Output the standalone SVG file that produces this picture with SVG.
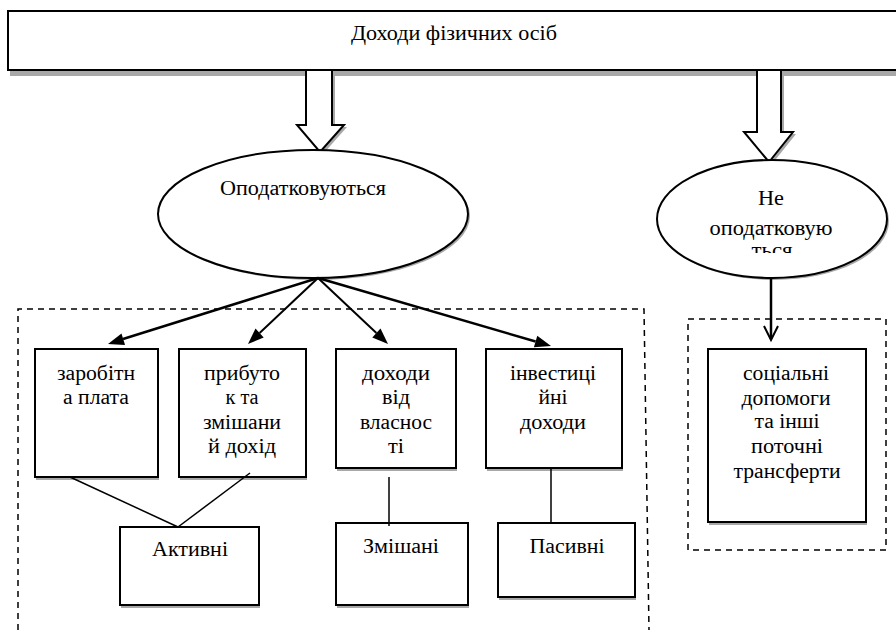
<svg xmlns="http://www.w3.org/2000/svg" width="896" height="635" viewBox="0 0 896 635">
<rect width="896" height="635" fill="#fff"/>

<g fill="none" stroke="#000" stroke-width="1.5" stroke-dasharray="6,5">
<g id="group-taxed"><path d="M18,630 V309 H644 L649,630"/></g>
<g id="group-nontaxed"><rect x="688" y="319" width="198" height="231"/></g>
</g>

<g id="top">
<rect fill="#a8a8a8" x="10" y="14" width="900" height="62"/>
<rect fill="#fff" stroke="#000" stroke-width="2" x="8" y="11" width="900" height="59"/>
<text font-family="Liberation Serif" font-size="20" x="351" y="40" textLength="206" lengthAdjust="spacingAndGlyphs">Доходи фізичних осіб</text>
</g>

<g id="arrow-left">
<path fill="#a8a8a8" d="M309,72 H335 V127 H347 L323,154 L300,127 H309 Z"/>
<path d="M306,70 H332 V125 H344 L320,152 L297,125 H306 Z" fill="#fff" stroke="#000" stroke-width="2"/>
</g>
<g id="arrow-right">
<path fill="#a8a8a8" d="M760,72 H784 V134 H796 L772,164 L747,134 H760 Z"/>
<path d="M757,70 H781 V132 H793 L769,162 L744,132 H757 Z" fill="#fff" stroke="#000" stroke-width="2"/>
</g>

<g id="taxed">
<ellipse fill="#a8a8a8" cx="315" cy="216" rx="155" ry="64"/>
<ellipse cx="313" cy="214" rx="155" ry="64" fill="#fff" stroke="#000" stroke-width="2"/>
<text font-family="Liberation Serif" font-size="20" x="220" y="195" textLength="166" lengthAdjust="spacingAndGlyphs">Оподатковуються</text>
</g>

<g id="nontaxed">
<ellipse fill="#a8a8a8" cx="774" cy="221" rx="115" ry="59"/>
<ellipse cx="772" cy="219" rx="115" ry="59" fill="#fff" stroke="#000" stroke-width="2"/>
<text font-family="Liberation Serif" font-size="20" x="758" y="205" textLength="26" lengthAdjust="spacingAndGlyphs">Не</text>
<text font-family="Liberation Serif" font-size="20" x="709.5" y="235" textLength="123" lengthAdjust="spacingAndGlyphs">оподатковую</text>
<text font-family="Liberation Serif" font-size="20" x="751.5" y="257" textLength="41" lengthAdjust="spacingAndGlyphs">ться</text>
<rect fill="#fff" x="745" y="253" width="55" height="10"/>
</g>

<g id="salary">
<rect fill="#a8a8a8" x="36" y="351" width="123" height="129"/>
<rect fill="#fff" stroke="#000" stroke-width="2" x="35" y="349" width="123" height="128"/>
<text font-family="Liberation Serif" font-size="20" x="57" y="380" textLength="78" lengthAdjust="spacingAndGlyphs">заробітн</text>
<text font-family="Liberation Serif" font-size="20" x="63" y="404" textLength="66" lengthAdjust="spacingAndGlyphs">а плата</text>
</g>
<g id="profit">
<rect fill="#a8a8a8" x="180" y="351" width="127" height="129"/>
<rect fill="#fff" stroke="#000" stroke-width="2" x="179" y="349" width="127" height="128"/>
<text font-family="Liberation Serif" font-size="20" x="204" y="380" textLength="76" lengthAdjust="spacingAndGlyphs">прибуто</text>
<text font-family="Liberation Serif" font-size="20" x="225.5" y="404" textLength="33" lengthAdjust="spacingAndGlyphs">к та</text>
<text font-family="Liberation Serif" font-size="20" x="203" y="429" textLength="78" lengthAdjust="spacingAndGlyphs">змішани</text>
<text font-family="Liberation Serif" font-size="20" x="208" y="453" textLength="68" lengthAdjust="spacingAndGlyphs">й дохід</text>
</g>
<g id="property">
<rect fill="#a8a8a8" x="337" y="351" width="120" height="120"/>
<rect fill="#fff" stroke="#000" stroke-width="2" x="336" y="349" width="120" height="119"/>
<text font-family="Liberation Serif" font-size="20" x="362" y="380" textLength="68" lengthAdjust="spacingAndGlyphs">доходи</text>
<text font-family="Liberation Serif" font-size="20" x="382" y="404" textLength="28" lengthAdjust="spacingAndGlyphs">від</text>
<text font-family="Liberation Serif" font-size="20" x="360" y="429" textLength="72" lengthAdjust="spacingAndGlyphs">власнос</text>
<text font-family="Liberation Serif" font-size="20" x="388" y="453" textLength="16" lengthAdjust="spacingAndGlyphs">ті</text>
</g>
<g id="investment">
<rect fill="#a8a8a8" x="487" y="351" width="136" height="120"/>
<rect fill="#fff" stroke="#000" stroke-width="2" x="486" y="349" width="136" height="119"/>
<text font-family="Liberation Serif" font-size="20" x="510" y="380" textLength="86" lengthAdjust="spacingAndGlyphs">інвестиці</text>
<text font-family="Liberation Serif" font-size="20" x="538.5" y="404" textLength="29" lengthAdjust="spacingAndGlyphs">йні</text>
<text font-family="Liberation Serif" font-size="20" x="520" y="429" textLength="66" lengthAdjust="spacingAndGlyphs">доходи</text>
</g>
<g id="active">
<rect fill="#a8a8a8" x="121" y="529" width="139" height="79"/>
<rect fill="#fff" stroke="#000" stroke-width="2" x="120" y="527" width="139" height="78"/>
<text font-family="Liberation Serif" font-size="20" x="152" y="556" textLength="76" lengthAdjust="spacingAndGlyphs">Активні</text>
</g>
<g id="mixed">
<rect fill="#a8a8a8" x="337" y="525" width="132" height="83"/>
<rect fill="#fff" stroke="#000" stroke-width="2" x="336" y="523" width="132" height="82"/>
<text font-family="Liberation Serif" font-size="20" x="363" y="553" textLength="76" lengthAdjust="spacingAndGlyphs">Змішані</text>
</g>
<g id="passive">
<rect fill="#a8a8a8" x="499" y="525" width="137" height="75"/>
<rect fill="#fff" stroke="#000" stroke-width="2" x="498" y="523" width="137" height="74"/>
<text font-family="Liberation Serif" font-size="20" x="529.5" y="553" textLength="75" lengthAdjust="spacingAndGlyphs">Пасивні</text>
</g>
<g id="social">
<rect fill="#a8a8a8" x="709" y="351" width="158" height="174"/>
<rect fill="#fff" stroke="#000" stroke-width="2" x="708" y="349" width="158" height="173"/>
<text font-family="Liberation Serif" font-size="20" x="743" y="380" textLength="86" lengthAdjust="spacingAndGlyphs">соціальні</text>
<text font-family="Liberation Serif" font-size="20" x="741.5" y="405" textLength="89" lengthAdjust="spacingAndGlyphs">допомоги</text>
<text font-family="Liberation Serif" font-size="20" x="754.5" y="428" textLength="65" lengthAdjust="spacingAndGlyphs">та інші</text>
<text font-family="Liberation Serif" font-size="20" x="751" y="453" textLength="72" lengthAdjust="spacingAndGlyphs">поточні</text>
<text font-family="Liberation Serif" font-size="20" x="733.5" y="478" textLength="107" lengthAdjust="spacingAndGlyphs">трансферти</text>
</g>

<g id="connectors" stroke="#000">
<line stroke-width="2.5" x1="318" y1="278" x2="123" y2="339"/>
<polygon fill="#000" stroke="none" points="108,344 125.1,344.9 121.5,333.5"/>
<line stroke-width="2" x1="318" y1="278" x2="259.6" y2="333"/>
<polygon fill="#000" stroke="none" points="248,344 263.7,337.4 255.5,328.6"/>
<line stroke-width="2" x1="318" y1="278" x2="376.4" y2="333"/>
<polygon fill="#000" stroke="none" points="388,344 372.3,337.4 380.5,328.6"/>
<line stroke-width="2.5" x1="318" y1="278" x2="535.6" y2="341.5"/>
<polygon fill="#000" stroke="none" points="551,346 533.9,347.3 537.3,335.7"/>
<line stroke-width="2.5" x1="771" y1="278" x2="771" y2="339"/>
<polyline fill="none" stroke-width="2" points="764,326 771,340 778,326"/>
<line stroke-width="1.5" x1="70" y1="477" x2="178" y2="527"/>
<line stroke-width="1.5" x1="250" y1="473" x2="178" y2="527"/>
<line stroke-width="1.5" x1="389" y1="477" x2="389" y2="526"/>
<line stroke-width="1.5" x1="551" y1="468" x2="551" y2="523"/>
</g>
</svg>
